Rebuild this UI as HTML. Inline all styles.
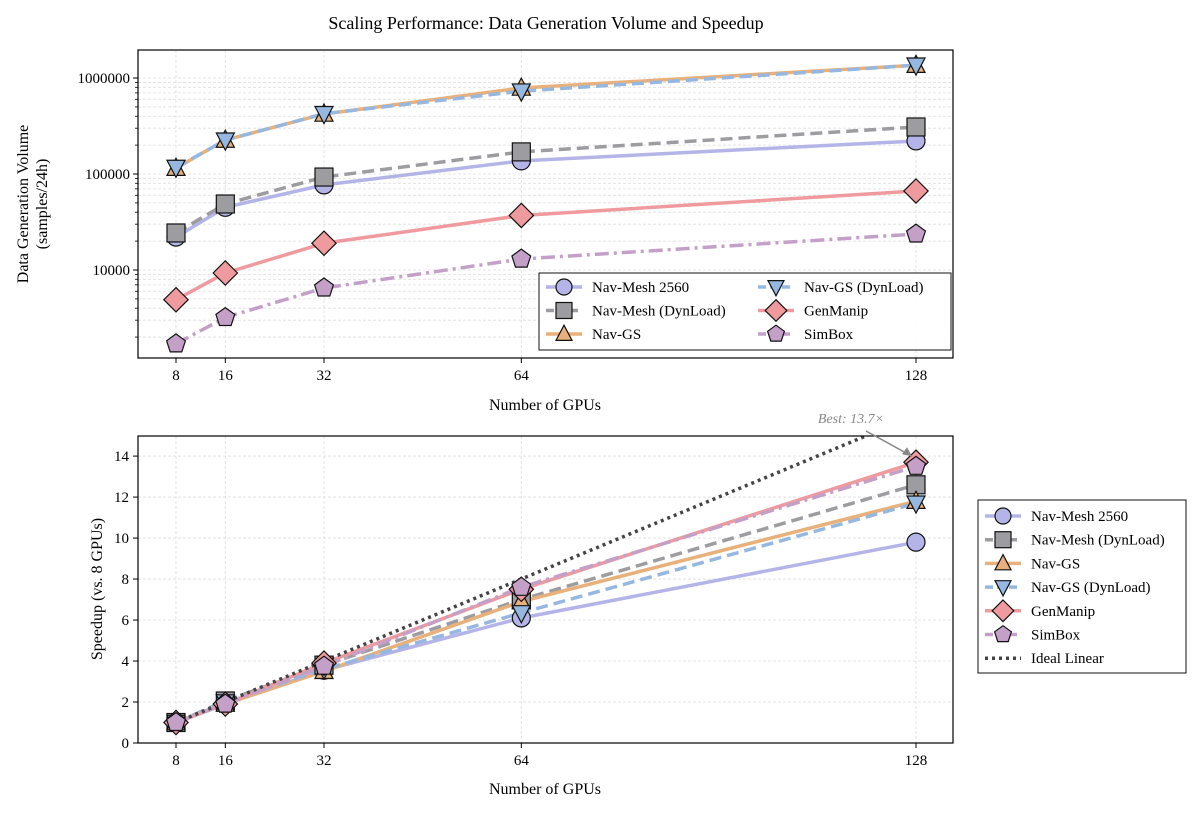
<!DOCTYPE html>
<html><head><meta charset="utf-8"><style>
body{margin:0;background:#fff}
svg{font-family:"Liberation Serif",serif;display:block}
</style></head><body>
<svg id="c" width="1202" height="815" viewBox="0 0 1202 815" xmlns="http://www.w3.org/2000/svg"></svg>
<script>
const gpus=[8,16,32,64,128];
const seriesNames=["Nav-Mesh 2560","Nav-Mesh (DynLoad)","Nav-GS","Nav-GS (DynLoad)","GenManip","SimBox"];
const volNavMesh=[22000,45000,77000,137000,221000];
const volNavMeshDyn=[24300,48700,93000,170000,309000];
const volNavGS=[115000,226000,422000,787000,1360000];
const volNavGSDyn=[117000,225000,425000,730000,1360000];
const volGenManip=[4900,9300,19000,37000,66500];
const volSimBox=[1700,3200,6500,13000,23700];
const spNavMesh=[1,1.95,3.55,6.1,9.8];
const spNavMeshDyn=[1,2.05,3.8,7.0,12.6];
const spNavGS=[1,1.9,3.5,6.9,11.8];
const spNavGSDyn=[1,2.0,3.6,6.35,11.7];
const spGenManip=[1,1.9,3.9,7.5,13.7];
const spSimBox=[1,1.9,3.75,7.6,13.5];
const idealLinear=[1,2,4,8,16];
const yTopTicks=[10000,100000,1000000];
const yBotTicks=[0,2,4,6,8,10,12,14];

const NS="http://www.w3.org/2000/svg";
const svg=document.getElementById('c');
function el(tag,attrs,parent){const e=document.createElementNS(NS,tag);for(const k in attrs)e.setAttribute(k,attrs[k]);(parent||svg).appendChild(e);return e;}
const styles=[
 {c:"#b4b4e8",m:"circle",dash:""},
 {c:"#9d9da1",m:"square",dash:"12,6"},
 {c:"#e8b07a",m:"tri",dash:""},
 {c:"#96b8e0",m:"tridown",dash:"12,6"},
 {c:"#ef9a9e",m:"diamond",dash:""},
 {c:"#c4a0c8",m:"pent",dash:"14,5,3,5"}];
const volData=[volNavMesh,volNavMeshDyn,volNavGS,volNavGSDyn,volGenManip,volSimBox];
const spData=[spNavMesh,spNavMeshDyn,spNavGS,spNavGSDyn,spGenManip,spSimBox];

const PL=138,PR=953;
const xmin=1.84,xmax=134;
function X(v){return PL+(v-xmin)/(xmax-xmin)*(PR-PL);}
const T0=50,T1=358,lmin=3.083,lmax=6.292;
function YT(v){return T1-(Math.log10(v)-lmin)/(lmax-lmin)*(T1-T0);}
const B0=436,B1=743,bmax=14.98;
function YB(v){return B1-v/bmax*(B1-B0);}

function marker(type,x,y,fill,g,s){
 s=s||9;let e;
 const a={fill:fill,stroke:"#111","stroke-width":1.2};
 if(type==="circle"){e=el("circle",Object.assign({cx:x,cy:y,r:s},a),g);}
 else if(type==="square"){e=el("rect",Object.assign({x:x-s,y:y-s,width:2*s,height:2*s},a),g);}
 else if(type==="tri"){e=el("polygon",Object.assign({points:`${x},${y-s*1.1} ${x-s},${y+s*0.8} ${x+s},${y+s*0.8}`},a),g);}
 else if(type==="tridown"){e=el("polygon",Object.assign({points:`${x},${y+s*1.1} ${x-s},${y-s*0.8} ${x+s},${y-s*0.8}`},a),g);}
 else if(type==="diamond"){const d=s*1.35;e=el("polygon",Object.assign({points:`${x},${y-d} ${x+d},${y} ${x},${y+d} ${x-d},${y}`},a),g);}
 else {let p=[];for(let i=0;i<5;i++){const an=-Math.PI/2+i*2*Math.PI/5;p.push((x+s*1.1*Math.cos(an)).toFixed(1)+","+(y+s*1.1*Math.sin(an)).toFixed(1));}e=el("polygon",Object.assign({points:p.join(" ")},a),g);}
 return e;
}

const t=el("text",{x:546,y:29,"text-anchor":"middle","font-size":18});t.textContent="Scaling Performance: Data Generation Volume and Speedup";


function txt(x,y,s,size,anchor,g,extra){const e=el("text",Object.assign({x:x,y:y,"font-size":size||15,"text-anchor":anchor||"middle"},extra||{}),g);e.textContent=s;return e;}

// ===== TOP PLOT =====
const gt=el("g",{});
const gridT=el("g",{stroke:"#ddd","stroke-width":0.8,"stroke-dasharray":"3,2"},gt);

for(let d=3;d<=6;d++)for(let m=1;m<=9;m++){const v=m*Math.pow(10,d);const y=YT(v);if(y<T0||y>T1)continue;el("line",{x1:PL,x2:PR,y1:y,y2:y},gridT);}
gpus.forEach(g=>el("line",{x1:X(g),x2:X(g),y1:T0,y2:T1},gridT));
const linesT=el("g",{},gt);
volData.forEach((arr,i)=>{
 const st=styles[i];
 const pl=el("polyline",{points:arr.map((v,j)=>X(gpus[j])+","+YT(v)).join(" "),fill:"none",stroke:st.c,"stroke-width":3.5,"stroke-dasharray":st.dash},linesT);
 
});
volData.forEach((arr,i)=>{arr.forEach((v,j)=>{const m=marker(styles[i].m,X(gpus[j]),YT(v),styles[i].c,linesT);
 });});
el("rect",{x:PL,y:T0,width:PR-PL,height:T1-T0,fill:"none",stroke:"#000","stroke-width":1.2},gt);
gpus.forEach(g=>{el("line",{x1:X(g),x2:X(g),y1:T1,y2:T1+5,stroke:"#000"},gt);const e=txt(X(g),T1+22,g,15,"middle",gt);});
yTopTicks.forEach(v=>{el("line",{x1:PL-5,x2:PL,y1:YT(v),y2:YT(v),stroke:"#000"},gt);const e=txt(PL-8,YT(v)+5,String(v),15,"end",gt);});
for(let d=3;d<=6;d++)for(let m=2;m<=9;m++){const y=YT(m*Math.pow(10,d));if(y<T0||y>T1)continue;el("line",{x1:PL-3,x2:PL,y1:y,y2:y,stroke:"#000","stroke-width":0.8},gt);}
let e1=txt(545,410,"Number of GPUs",16,"middle",gt);
let e2=el("text",{transform:"translate(28,204) rotate(-90)","font-size":16,"text-anchor":"middle"},gt);

el("tspan",{x:0,dy:0},e2).textContent="Data Generation Volume";el("tspan",{x:0,dy:19},e2).textContent="(samples/24h)";

const lg=el("g",{},gt);
el("rect",{x:539,y:273,width:412,height:77,fill:"#fff","fill-opacity":0.9,stroke:"#111","stroke-width":1},lg);
const order=[[0,0],[1,0],[2,0],[3,1],[4,1],[5,1]];
order.forEach(([i,col],k)=>{const row=k%3;const x0=col?758:546;const y=287+row*23.5;const st=styles[i];
 const ge=el("g",{},lg);
 el("line",{x1:x0,x2:x0+36,y1:y,y2:y,stroke:st.c,"stroke-width":3.5,"stroke-dasharray":st.dash?"8,4":""},ge);
 marker(st.m,x0+18,y,st.c,ge,8);txt(x0+46,y+5,seriesNames[i],15,"start",ge);});

// ===== BOTTOM PLOT =====
const gb=el("g",{});
const gridB=el("g",{stroke:"#ddd","stroke-width":0.8,"stroke-dasharray":"3,2"},gb);

yBotTicks.forEach(v=>el("line",{x1:PL,x2:PR,y1:YB(v),y2:YB(v)},gridB));
gpus.forEach(g=>el("line",{x1:X(g),x2:X(g),y1:B0,y2:B1},gridB));
el("clipPath",{id:"cb"},gb).appendChild((()=>{const r=document.createElementNS(NS,"rect");r.setAttribute("x",PL);r.setAttribute("y",B0);r.setAttribute("width",PR-PL);r.setAttribute("height",B1-B0);return r;})());
const linesB=el("g",{"clip-path":"url(#cb)"},gb);
spData.forEach((arr,i)=>{const st=styles[i];
 const pl=el("polyline",{points:arr.map((v,j)=>X(gpus[j])+","+YB(v)).join(" "),fill:"none",stroke:st.c,"stroke-width":3.5,"stroke-dasharray":st.dash},linesB);
 });
const idl=el("polyline",{points:idealLinear.map((v,j)=>X(gpus[j])+","+YB(v)).join(" "),fill:"none",stroke:"#444","stroke-width":3.5,"stroke-dasharray":"3,4"},linesB);

const mk=el("g",{},gb);
spData.forEach((arr,i)=>{arr.forEach((v,j)=>{const m=marker(styles[i].m,X(gpus[j]),YB(v),styles[i].c,mk);
 });});
el("rect",{x:PL,y:B0,width:PR-PL,height:B1-B0,fill:"none",stroke:"#000","stroke-width":1.2},gb);
gpus.forEach(g=>{el("line",{x1:X(g),x2:X(g),y1:B1,y2:B1+5,stroke:"#000"},gb);const e=txt(X(g),B1+22,g,15,"middle",gb);});
yBotTicks.forEach(v=>{el("line",{x1:PL-5,x2:PL,y1:YB(v),y2:YB(v),stroke:"#000"},gb);const e=txt(PL-9,YB(v)+5,v,15,"end",gb);});
let e3=txt(545,794,"Number of GPUs",16,"middle",gb);
let e4=el("text",{transform:"translate(102,589) rotate(-90)","font-size":16,"text-anchor":"middle"},gb);e4.textContent="Speedup (vs. 8 GPUs)";

const an=el("g",{},gb);
txt(851,423,"Best: 13.7×",14,"middle",an,{fill:"#888","font-style":"italic"});
const ax=X(128)-4,ay=YB(spGenManip[4])-6;
el("line",{x1:866,y1:431,x2:ax,y2:ay,stroke:"#888","stroke-width":1.5},an);
el("polygon",{points:`${ax},${ay} ${ax-10},${ay-2} ${ax-5},${ay-9}`,fill:"#888"},an);

const lb=el("g",{},gb);
el("rect",{x:978,y:500,width:208,height:173,fill:"#fff",stroke:"#111","stroke-width":1},lb);
const names2=seriesNames.concat(["Ideal Linear"]);
names2.forEach((n,i)=>{const y=516+i*23.7;const ge=el("g",{},lb);
 if(i<6){const st=styles[i];el("line",{x1:985,x2:1021,y1:y,y2:y,stroke:st.c,"stroke-width":3.5,"stroke-dasharray":st.dash?"8,4":""},ge);marker(st.m,1003,y,st.c,ge,8);}
 else el("line",{x1:985,x2:1021,y1:y,y2:y,stroke:"#444","stroke-width":3.5,"stroke-dasharray":"3,4"},ge);
 txt(1031,y+5,n,15,"start",ge);});
</script>
</body></html>
